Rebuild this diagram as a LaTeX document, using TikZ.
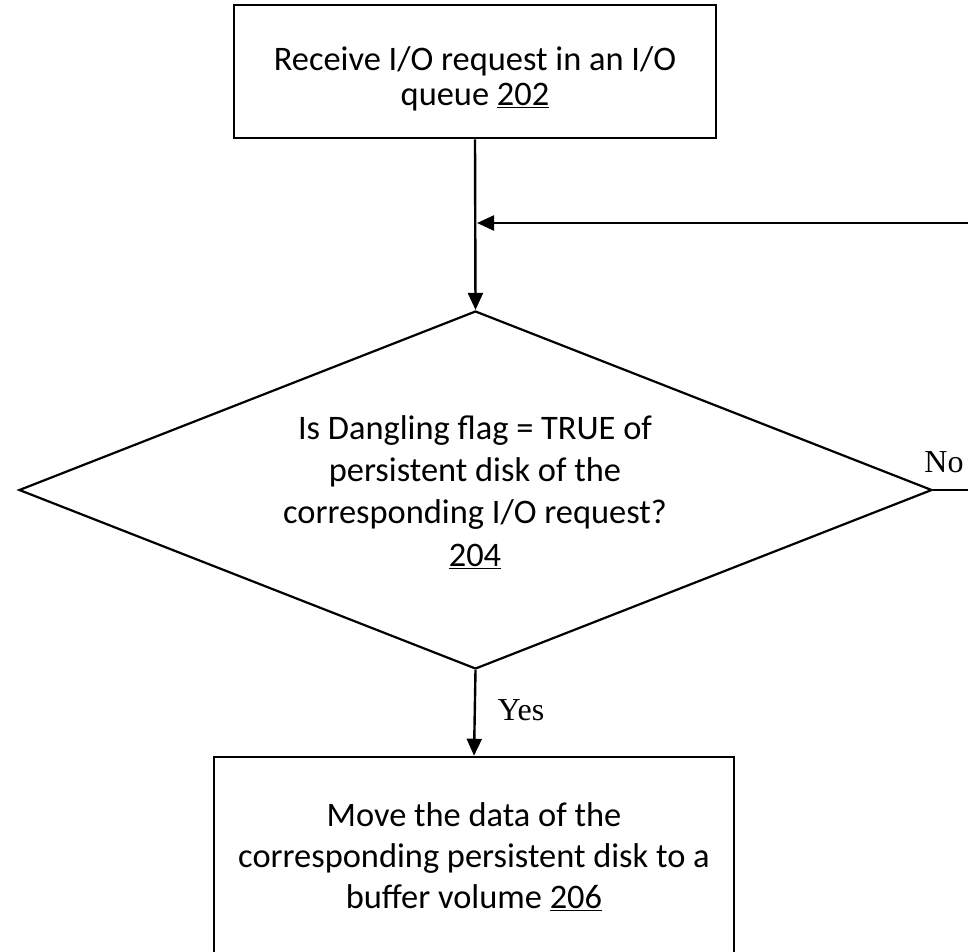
\documentclass[tikz,border=0pt]{standalone}
\usepackage{fontspec}
\setmainfont{Carlito}
\newfontfamily\tnr{Liberation Serif}
\usetikzlibrary{shapes.geometric,arrows.meta}
\begin{document}
\begin{tikzpicture}[x=1pt,y=-1pt,
  boxst/.style={draw, line width=2.6pt, inner sep=0pt},
  dia/.style={draw, diamond, line width=2.2pt, inner sep=0pt, aspect=2.55},
  conn/.style={line width=2.4pt},
  arr/.style={conn, -{Triangle[length=17pt,width=15pt]}},
  bodytxt/.style={align=center, font=\fontsize{34.4}{35}\selectfont, inner sep=0pt},
  lbl/.style={font=\tnr\fontsize{32}{36}\selectfont, inner sep=0pt}]
\clip (0,0) rectangle (968,951);
% top box
\node[boxst, minimum width=482pt, minimum height=133pt] (a) at (475,71.5) {};
\node[bodytxt] (atx) at (475,79) {Receive I/O request in an I/O\\queue \underline{202}};
% decision
\node[dia, minimum width=913pt, minimum height=358pt] (d) at (475.5,490) {};
\node[bodytxt, font=\fontsize{34.4}{42.3}\selectfont] (dtx) at (475,492) {Is Dangling flag = TRUE of\\persistent disk of the\\corresponding I/O request?\\\underline{204}};
% bottom box
\node[boxst, minimum width=520pt, minimum height=203pt] (b) at (474,858.5) {};
\node[bodytxt, font=\fontsize{34.4}{41}\selectfont] (btx) at (474,857) {Move the data of the\\corresponding persistent disk to a\\buffer volume \underline{206}};
% connectors
\draw[arr] (a.south) -- (d.north);
\coordinate (fb) at (968,223);
\coordinate (j) at (477,223);
\draw[arr] (fb) -- (j);
\coordinate (noend) at (968,490);
\draw[conn] (d.east) -- (noend);
\node[lbl] (no) at (944,462) {No};
\draw[arr] (d.south) -- (b.north);
\node[lbl] (yes) at (521,710) {Yes};
\end{tikzpicture}
\end{document}
